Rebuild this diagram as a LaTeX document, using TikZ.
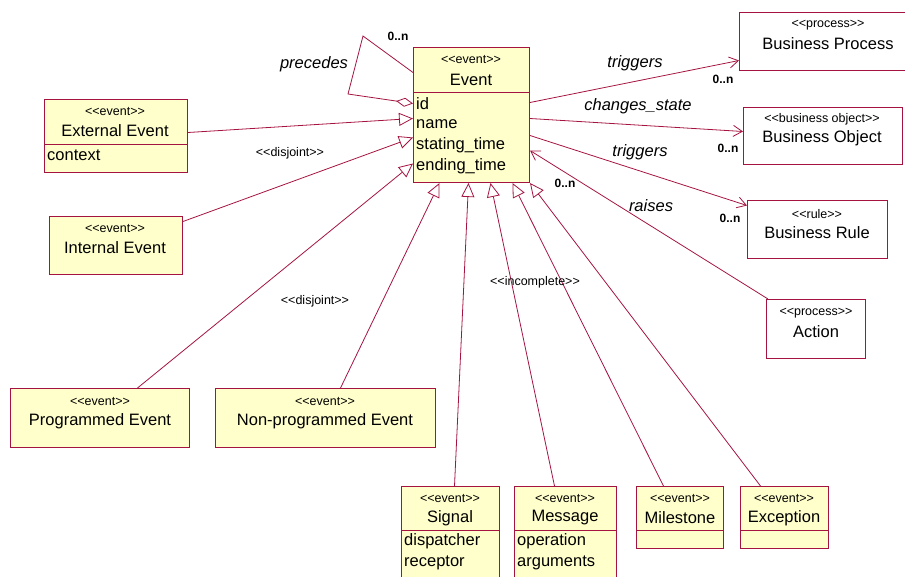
\documentclass[tikz,border=0pt]{standalone}
\usepackage{fontspec}
\setmainfont{Liberation Sans}
\usetikzlibrary{arrows.meta}

\definecolor{umlred}{RGB}{165,20,65}
\definecolor{umlfill}{RGB}{255,255,204}
\newcommand{\stype}[1]{<\kern0pt<#1>\kern0pt>}

\tikzset{
  cls/.style={draw=umlred, line width=1pt, fill=umlfill, anchor=north west, inner sep=0pt},
  proc/.style={cls, fill=white},
  divider/.style={draw=umlred, line width=1pt},
  stereo/.style={font=\fontsize{12.5}{14}\selectfont, inner sep=0pt},
  cname/.style={font=\fontsize{16.5}{18}\selectfont, inner sep=0pt},
  attr/.style={font=\fontsize{16.5}{18}\selectfont, anchor=west, inner sep=0pt},
  role/.style={font=\fontsize{16.5}{18}\selectfont\itshape, inner sep=0pt},
  mult/.style={font=\fontsize{12}{14}\selectfont\bfseries, inner sep=0pt},
  gen/.style={draw=umlred, line width=0.8pt, -{Triangle[open,length=14pt,width=13pt]}},
  assoc/.style={draw=umlred, line width=0.8pt, -{Straight Barb[length=9pt,width=11pt]}},
  aggr/.style={draw=umlred, line width=0.8pt, -{Diamond[open,length=17pt,width=9pt]}}
}

\begin{document}
\begin{tikzpicture}[x=1pt,y=-1pt]
  \path[use as bounding box, clip] (0,0) rectangle (905,576);

  % event classes
  \node[cls, minimum width=116, minimum height=135] (event) at (413,47) {};
  \draw[divider] (event.west |- 0,92) -- (event.east |- 0,92);
  \node[stereo] (eventS) at (471,60) {\stype{event}};
  \node[cname] (eventN) at (471,80) {Event};
  \node[attr] (eventA1) at (416,104) {id};
  \node[attr] (eventA2) at (416,124) {name};
  \node[attr] (eventA3) at (416,145) {stating\_time};
  \node[attr] (eventA4) at (416,166) {ending\_time};

  \node[cls, minimum width=143, minimum height=73] (extev) at (44,99) {};
  \draw[divider] (extev.west |- 0,144) -- (extev.east |- 0,144);
  \node[stereo] (extevS) at (115,112) {\stype{event}};
  \node[cname] (extevN) at (115,131) {External Event};
  \node[attr] (extevA1) at (47,155) {context};

  \node[cls, minimum width=133, minimum height=58] (intev) at (49,216) {};
  \node[stereo] (intevS) at (115,229) {\stype{event}};
  \node[cname] (intevN) at (115,248) {Internal Event};

  \node[cls, minimum width=179, minimum height=59] (progev) at (10,388) {};
  \node[stereo] (progevS) at (100,402) {\stype{event}};
  \node[cname] (progevN) at (100,421) {Programmed Event};

  \node[cls, minimum width=220, minimum height=59] (nonprog) at (215,388) {};
  \node[stereo] (nonprogS) at (325,402) {\stype{event}};
  \node[cname] (nonprogN) at (325,421) {Non-programmed Event};

  \node[cls, minimum width=98, minimum height=100] (signal) at (401,486) {};
  \draw[divider] (signal.west |- 0,530) -- (signal.east |- 0,530);
  \node[stereo] (signalS) at (450,499) {\stype{event}};
  \node[cname] (signalN) at (450,518) {Signal};
  \node[attr] (signalA1) at (404,541) {dispatcher};
  \node[attr] (signalA2) at (404,563) {receptor};

  \node[cls, minimum width=102, minimum height=100] (message) at (514,486) {};
  \draw[divider] (message.west |- 0,530) -- (message.east |- 0,530);
  \node[stereo] (messageS) at (565,499) {\stype{event}};
  \node[cname] (messageN) at (565,518) {Message};
  \node[attr] (messageA1) at (517,541) {operation};
  \node[attr] (messageA2) at (517,563) {arguments};

  \node[cls, minimum width=87, minimum height=62] (milestone) at (636,486) {};
  \draw[divider] (milestone.west |- 0,530) -- (milestone.east |- 0,530);
  \node[stereo] (milestoneS) at (680,499) {\stype{event}};
  \node[cname] (milestoneN) at (680,518) {Milestone};

  \node[cls, minimum width=88, minimum height=62] (exception) at (740,486) {};
  \draw[divider] (exception.west |- 0,530) -- (exception.east |- 0,530);
  \node[stereo] (exceptionS) at (784,499) {\stype{event}};
  \node[cname] (exceptionN) at (784,518) {Exception};

  % other classes
  \node[proc, minimum width=99, minimum height=59] (action) at (766,299) {};
  \node[stereo] (actionS) at (816,313) {\stype{process}};
  \node[cname] (actionN) at (816,332) {Action};

  \node[proc, minimum width=180, minimum height=58] (bproc) at (739,12) {};
  \node[stereo] (bprocS) at (828,25) {\stype{process}};
  \node[cname] (bprocN) at (828,44) {Business Process};

  \node[proc, minimum width=159, minimum height=57] (bobj) at (743,107) {};
  \node[stereo] (bobjS) at (822,119) {\stype{business object}};
  \node[cname] (bobjN) at (822,138) {Business Object};

  \node[proc, minimum width=140, minimum height=58] (brule) at (747,200) {};
  \node[stereo] (bruleS) at (817,214) {\stype{rule}};
  \node[cname] (bruleN) at (817,233) {Business Rule};

  % generalizations
  \draw[gen] ([yshift=3.5pt]extev.east) -- ([yshift=-3.5pt]event.west);
  \draw[gen] ([yshift=24pt]intev.east) -- ([yshift=-22.5pt]event.west);
  \draw[gen] ([xshift=37.5pt]progev.north) -- ([yshift=-48.5pt]event.west);
  \draw[gen] ([xshift=15pt]nonprog.north) -- ([xshift=-32pt]event.south);
  \draw[gen] ([xshift=4pt]signal.north) -- ([xshift=-3pt]event.south);
  \draw[gen] ([xshift=-11pt]message.north) -- ([xshift=19pt]event.south);
  \draw[gen] ([xshift=-16.5pt]milestone.north) -- ([xshift=41pt]event.south);
  \draw[gen] ([xshift=-24pt]exception.north) -- (event.south east);
  \node[stereo] (disj1) at (290,153) {\stype{disjoint}};
  \node[stereo] (disj2) at (315,301) {\stype{disjoint}};
  \node[stereo] (incompl) at (535,282) {\stype{incomplete}};

  % associations
  \coordinate (loopA) at (363,36);
  \coordinate (loopB) at (348,94);
  \draw[aggr] ([yshift=42.5pt]event.west) -- (loopA) -- (loopB) -- ([yshift=11.5pt]event.west);
  \node[role] (precL) at (314,64) {precedes};
  \node[mult] (precM) at (398,36) {0..n};

  \draw[assoc] ([yshift=12.5pt]event.east) -- ([yshift=-19pt]bproc.west);
  \node[role] (trigL) at (635,63) {triggers};
  \node[mult] (trigM) at (723,79) {0..n};

  \draw[assoc] ([yshift=-3.5pt]event.east) -- ([yshift=4.5pt]bobj.west);
  \node[role] (chgL) at (638,106) {changes\_state};
  \node[mult] (chgM) at (728,148) {0..n};

  \draw[assoc] ([yshift=-20.5pt]event.east) -- ([yshift=24pt]brule.west);
  \node[role] (trig2L) at (640,152) {triggers};
  \node[mult] (trig2M) at (730,218) {0..n};

  \draw[assoc] ([xshift=2pt]action.north west) -- ([yshift=-35.5pt]event.east);
  \node[role] (raisL) at (651,206) {raises};
  \node[mult] (raisM) at (565,183) {0..n};
\end{tikzpicture}
\end{document}
